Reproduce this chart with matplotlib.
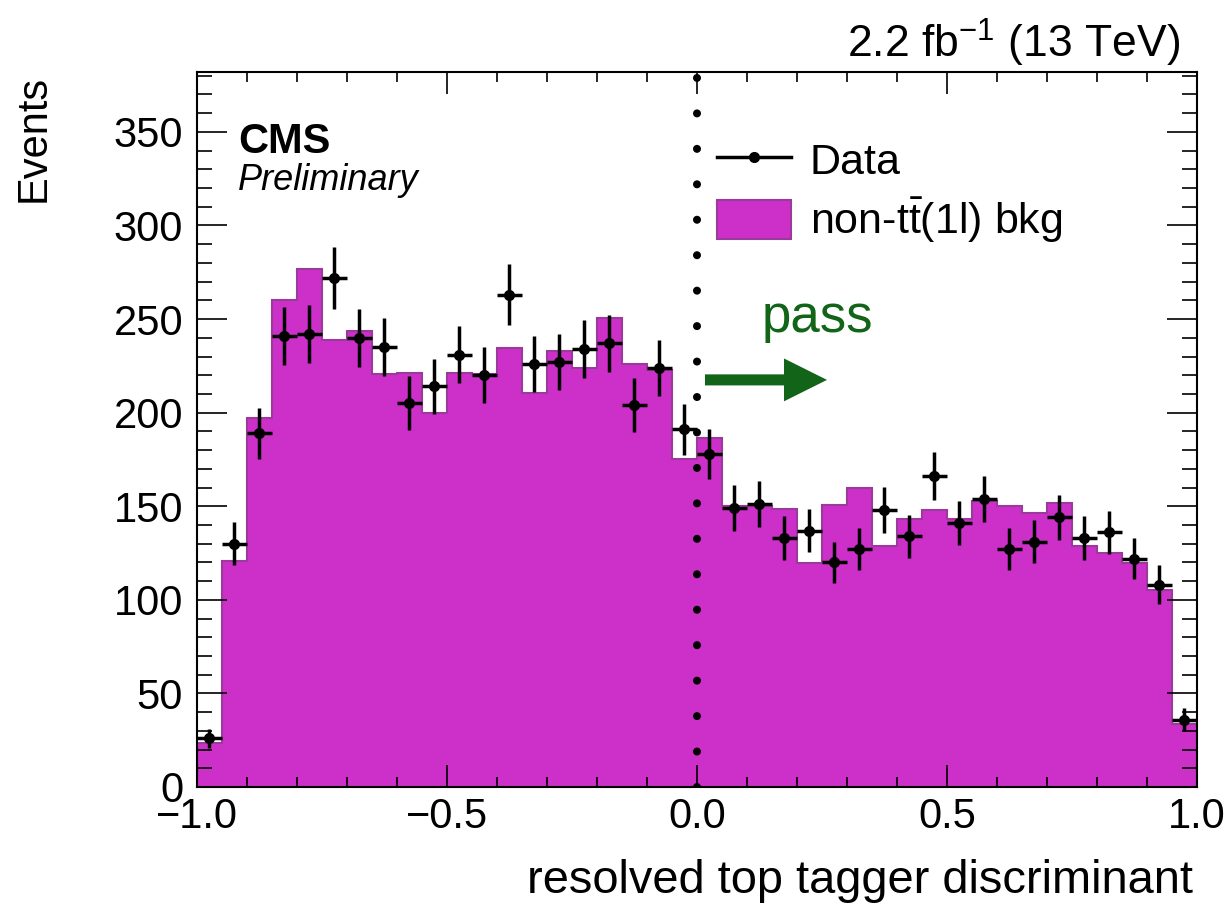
import numpy as np
import matplotlib
matplotlib.use('Agg')
import matplotlib.pyplot as plt
from matplotlib.lines import Line2D
from matplotlib.patches import Patch, FancyArrow

plt.rcParams['font.family'] = ['Liberation Sans', 'DejaVu Sans']
plt.rcParams['mathtext.fontset'] = 'custom'
plt.rcParams['mathtext.rm'] = 'Liberation Sans'
plt.rcParams['mathtext.it'] = 'Liberation Sans:italic'
plt.rcParams['mathtext.bf'] = 'Liberation Sans:bold'

# 40 bins from -1 to 1
edges = np.linspace(-1.0, 1.0, 41)

bkg = [23.5, 120.5, 197, 260, 276.5, 239, 243.5, 220.5, 221, 200,
       221, 220.5, 234.5, 210.5, 233, 224, 250.5, 226, 223, 175.5,
       186.5, 150, 150, 148.5, 119.5, 150.5, 160, 129, 143, 148,
       143, 153, 150, 146.5, 151.5, 129, 125, 119.5, 105, 33.5]

data = [26, 130, 189, 241, 242, 272, 240, 235, 205, 214,
        231, 220, 263, 226, 227, 234, 237, 204, 224, 191,
        178, 149, 151, 133, 137, 120, 127, 148, 134, 166,
        141, 154, 127, 131, 144, 133, 136, 122, 108, 36]

x_ticks = [-1.0, -0.5, 0.0, 0.5, 1.0]
y_ticks = [0, 50, 100, 150, 200, 250, 300, 350]

fill_color = '#cc30c8'
edge_color = '#9c3a9c'
green = '#126418'

fig = plt.figure(figsize=(12.31, 9.13), dpi=100)
ax = fig.add_axes([0.16003, 0.13801, 0.81235, 0.78313])

centers = 0.5 * (edges[1:] + edges[:-1])
half_w = 0.5 * (edges[1] - edges[0])

ax.stairs(bkg, edges, fill=True, facecolor=fill_color, edgecolor=edge_color,
          linewidth=1.5, zorder=1)

# cut line at 0
ax.plot([0, 0], [0, 382], color='black', linewidth=5.8,
        linestyle=(0, (0.001, 4.4)), dash_capstyle='round', zorder=3)

ax.errorbar(centers, data, yerr=np.sqrt(data), xerr=half_w, fmt='o',
            color='black', markersize=7, elinewidth=2.5, capsize=0, zorder=4)

ax.set_xlim(-1.0, 1.0)
ax.set_ylim(0, 382)
ax.set_xticks(x_ticks)
ax.set_xticklabels([('%.1f' % v).replace('-', '\u2212') for v in x_ticks])
ax.set_yticks(y_ticks)
ax.set_xticks(np.arange(-1.0, 1.01, 0.1), minor=True)
ax.set_yticks(np.arange(0, 381, 10), minor=True)

ax.tick_params(which='both', direction='in', top=True, right=True, width=1.2)
ax.tick_params(axis='x', which='major', length=16, pad=7, labelsize=30)
ax.tick_params(axis='x', which='minor', length=7.5)
ax.tick_params(axis='y', which='major', length=21.5, pad=10, labelsize=30)
ax.tick_params(axis='y', which='minor', length=11)
for s in ax.spines.values():
    s.set_linewidth(1.5)

ax.set_xlabel('resolved top tagger discriminant', fontsize=33.8, va='baseline')
ax.xaxis.set_label_coords(0.996, -0.148)
ax.xaxis.label.set_horizontalalignment('right')
ax.set_ylabel('Events', fontsize=30, loc='top', va='baseline')
ax.yaxis.set_label_coords(-0.152, 0.996)

ax.text(0.041, 0.887, 'CMS', transform=ax.transAxes, fontsize=30,
        fontweight='bold', va='baseline')
ax.text(0.041, 0.835, 'Preliminary', transform=ax.transAxes, fontsize=26,
        style='italic', va='baseline')
ax.text(0.983, 1.0196, r'2.2 fb$^{-1}$ (13 TeV)', transform=ax.transAxes,
        fontsize=32, ha='right', va='baseline')

ax.text(0.565, 0.636, 'pass', transform=ax.transAxes, fontsize=38,
        color=green, va='baseline')
ax.add_patch(FancyArrow(0.016, 217.5, 0.244, 0, width=5.9, head_width=22.9,
                        head_length=0.086, length_includes_head=True,
                        color=green, linewidth=0, zorder=5))

handles = [Line2D([], [], color='black', marker='o', markersize=7, linewidth=2.5),
           Patch(facecolor=fill_color, edgecolor=edge_color, linewidth=1.5)]
ax.legend(handles, ['Data', r'non-t$\bar{\mathrm{t}}$(1l) bkg'], loc='upper left',
          bbox_to_anchor=(0.52, 0.905), frameon=False, fontsize=31,
          handlelength=1.72, handleheight=1.0, handletextpad=0.43,
          labelspacing=0.3, borderpad=0, borderaxespad=0)

fig.savefig('out.png', dpi=100)
